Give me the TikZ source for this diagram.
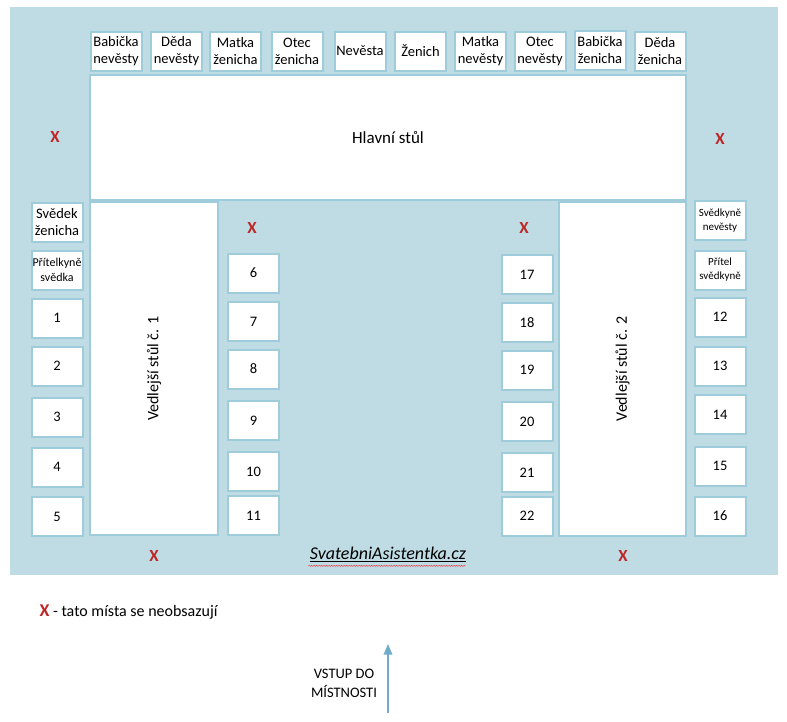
\documentclass[tikz,border=0pt]{standalone}
\usepackage{fontspec}
\setmainfont{Carlito}
\usepackage{xcolor}
\usepackage{tikz}
\usetikzlibrary{shapes,arrows,positioning,decorations.pathmorphing}

\definecolor{roombg}{RGB}{191,220,229}
\definecolor{seatline}{RGB}{158,204,219}
\definecolor{xred}{RGB}{190,38,38}
\definecolor{doorblue}{RGB}{112,172,200}

\begin{document}
\begin{tikzpicture}[
    x=1pt, y=-1pt,
    seat/.style={rectangle, draw=seatline, line width=2pt, fill=white, minimum width=51pt, minimum height=39pt, inner sep=0pt, align=center, font=\fontsize{14.5}{17}\selectfont},
    smallseat/.style={seat, font=\fontsize{12}{15}\selectfont},
    tinyseat/.style={seat, font=\fontsize{11}{14}\selectfont},
    bigtable/.style={rectangle, draw=seatline, line width=2pt, fill=white, inner sep=0pt, font=\fontsize{17}{19}\selectfont},
    xmark/.style={text=xred, font=\fontsize{17}{17}\selectfont\bfseries},
    arrow/.style={->, >=triangle 45, line width=1.5pt, doorblue},
]
    \useasboundingbox (0,0) rectangle (787,721);
    \fill[roombg] (10,7) rectangle (778,575);

    % hlavni stul
    \node[bigtable, minimum width=596pt, minimum height=125pt] (hlavni) at (388,137.5) {Hlavní stůl};
    \node[seat] (babn) at (116,51) {Babička\\nevěsty};
    \node[seat] (dedn) at (176.5,51) {Děda\\nevěsty};
    \node[seat] (matz) at (235.5,51) {Matka\\ženicha};
    \node[seat] (otez) at (297,51) {Otec\\ženicha};
    \node[seat] (nevesta) at (360,51) {Nevěsta};
    \node[seat] (zenich) at (420.5,51) {Ženich};
    \node[seat] (matn) at (480.5,51) {Matka\\nevěsty};
    \node[seat] (oten) at (540,51) {Otec\\nevěsty};
    \node[seat] (babz) at (600,50) {Babička\\ženicha};
    \node[seat] (dedz) at (660,51) {Děda\\ženicha};

    % vedlejsi stoly
    \node[bigtable, minimum width=128pt, minimum height=333pt] (stul1) at (154,368.5) {};
    \node[rotate=90, font=\fontsize{16}{17}\selectfont] (stul1txt) at (stul1.center) {Vedlejší stůl č. 1};
    \node[bigtable, minimum width=127pt, minimum height=334pt] (stul2) at (622.5,369) {};
    \node[rotate=90, font=\fontsize{16}{17}\selectfont] (stul2txt) at (stul2.center) {Vedlejší stůl č. 2};

    % leva strana
    \node[seat] (svedek) at (57,222.5) {Svědek\\ženicha};
    \node[smallseat] (pritelkyne) at (57,270) {Přítelkyně\\svědka};
    \node[seat] (s1) at (57,318) {1};
    \node[seat] (s2) at (57,366) {2};
    \node[seat] (s3) at (57,417) {3};
    \node[seat] (s4) at (57,467) {4};
    \node[seat] (s5) at (57,516.5) {5};

    \node[seat] (s6) at (253.5,273) {6};
    \node[seat] (s7) at (253.5,321.5) {7};
    \node[seat] (s8) at (253.5,369) {8};
    \node[seat] (s9) at (253.5,420.5) {9};
    \node[seat] (s10) at (253.5,471.5) {10};
    \node[seat] (s11) at (253.5,515.5) {11};

    % prava strana
    \node[seat] (s17) at (527,274.5) {17};
    \node[seat] (s18) at (527,322.5) {18};
    \node[seat] (s19) at (527,370) {19};
    \node[seat] (s20) at (527,421.5) {20};
    \node[seat] (s21) at (527,472.5) {21};
    \node[seat] (s22) at (527,516) {22};

    \node[tinyseat] (svedkyne) at (720,220.5) {Svědkyně\\nevěsty};
    \node[tinyseat] (pritel) at (720,270) {Přítel\\svědkyně};
    \node[seat] (s12) at (720,317) {12};
    \node[seat] (s13) at (720,366) {13};
    \node[seat] (s14) at (720,414.5) {14};
    \node[seat] (s15) at (720,466) {15};
    \node[seat] (s16) at (720,516) {16};

    % neobsazena mista
    \node[xmark] (x1) at (55,137) {X};
    \node[xmark] (x2) at (720,139) {X};
    \node[xmark] (x3) at (252,228) {X};
    \node[xmark] (x4) at (524,228) {X};
    \node[xmark] (x5) at (154,556) {X};
    \node[xmark] (x6) at (623,556) {X};

    \node[font=\fontsize{18}{18}\selectfont\itshape] (web) at (388,554) {\underline{SvatebniAsistentka.cz}};
    \draw[red!80, line width=0.5pt, decorate, decoration={snake, amplitude=0.5pt, segment length=2.5pt}]
        ([xshift=2pt, yshift=-1pt]web.south west) -- ([xshift=-4pt, yshift=-1pt]web.south east);

    % legenda
    \node[anchor=west, font=\fontsize{16}{18}\selectfont] (legenda) at (36,612) {\textcolor{xred}{\fontsize{18}{18}\selectfont\bfseries X} - tato místa se neobsazují};

    % vstup
    \coordinate (dvere) at (388,713);
    \coordinate (dovnitr) at (388,644);
    \node[align=center, font=\fontsize{14.5}{19}\selectfont] (vstup) at (344,683) {VSTUP DO\\MÍSTNOSTI};
    \draw[arrow] (dvere) -- (dovnitr);
\end{tikzpicture}
\end{document}
